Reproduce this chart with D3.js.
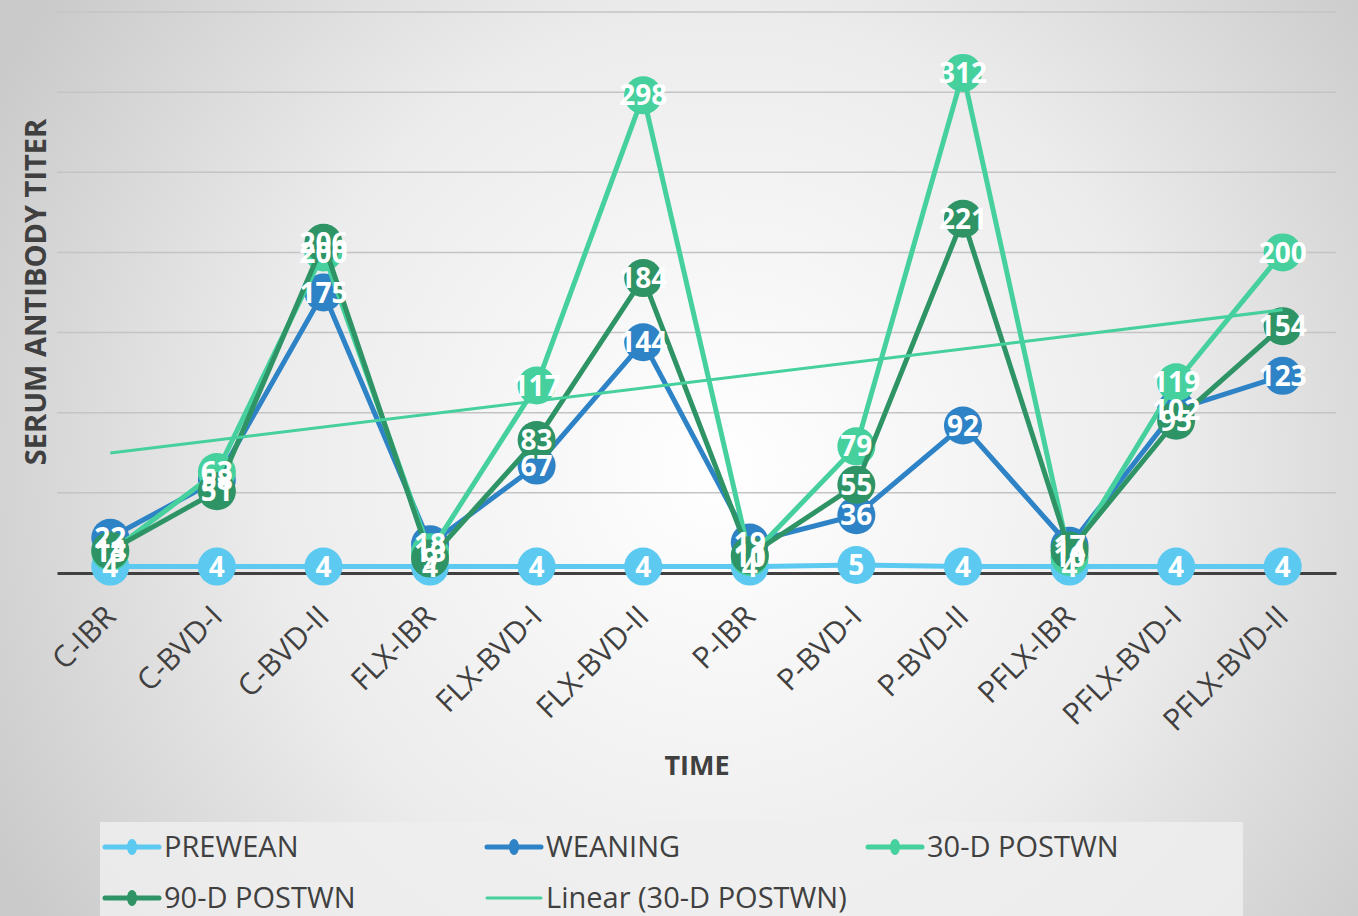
<!DOCTYPE html>
<html lang="en">
  <head>
    <meta charset="utf-8">
    <title>Serum Antibody Titer</title>
    <style>
      body { margin: 0; overflow: hidden; }
      text { font-family: "Open Sans", "DejaVu Sans", sans-serif; }
    </style>
  </head>
  <body>

<script src="https://d3js.org/d3.v7.min.js"></script>

<script>
// categories along the x axis
var categories = ["C-IBR", "C-BVD-I", "C-BVD-II", "FLX-IBR", "FLX-BVD-I", "FLX-BVD-II",
                  "P-IBR", "P-BVD-I", "P-BVD-II", "PFLX-IBR", "PFLX-BVD-I", "PFLX-BVD-II"];

// series values
var prewean  = [4, 4, 4, 4, 4, 4, 4, 5, 4, 4, 4, 4];
var weaning  = [22, 58, 175, 18, 67, 144, 19, 36, 92, 17, 102, 123];
var postwn30 = [13, 63, 200, 13, 117, 298, 10, 79, 312, 10, 119, 200];
var postwn90 = [14, 51, 206, 9, 83, 184, 11, 55, 221, 14, 95, 154];

var yTicks = [0, 50, 100, 150, 200, 250, 300, 350];

var series = [
  {name: "PREWEAN",    values: prewean,  color: "#5bc9f0"},
  {name: "WEANING",    values: weaning,  color: "#2e83c6"},
  {name: "30-D POSTWN", values: postwn30, color: "#45d09e"},
  {name: "90-D POSTWN", values: postwn90, color: "#2e9466"}
];

var W = 1358, H = 916;
var margin = {top: 12, right: 22, bottom: 343, left: 57};

var svg = d3.select("body").append("svg")
  .attr("width", W)
  .attr("height", H);

// soft radial background
var defs = svg.append("defs");
var grad = defs.append("radialGradient")
  .attr("id", "bg")
  .attr("gradientUnits", "userSpaceOnUse")
  .attr("cx", 720).attr("cy", 470).attr("r", 820);
grad.append("stop").attr("offset", "0%").attr("stop-color", "#ffffff");
grad.append("stop").attr("offset", "55%").attr("stop-color", "#ececec");
grad.append("stop").attr("offset", "100%").attr("stop-color", "#cacaca");

svg.append("rect")
  .attr("width", W).attr("height", H)
  .attr("fill", "url(#bg)");

var x = d3.scaleBand()
  .domain(categories)
  .range([margin.left, W - margin.right]);

var y = d3.scaleLinear()
  .domain([0, 350])
  .range([H - margin.bottom, margin.top]);

var cx = (d) => x(d) + x.bandwidth() / 2;

// gridlines
svg.append("g")
  .selectAll("line")
  .data(yTicks.slice(1))
  .enter()
  .append("line")
    .attr("x1", margin.left)
    .attr("x2", W - margin.right)
    .attr("y1", (d) => y(d))
    .attr("y2", (d) => y(d))
    .attr("stroke", "#c4c4c4")
    .attr("stroke-width", 1.5);

// x axis
var xAxis = svg.append("g")
  .attr("transform", "translate(0," + y(0) + ")")
  .call(d3.axisBottom(x).tickSize(0).tickPadding(0));
xAxis.select(".domain")
  .attr("stroke", "#404040")
  .attr("stroke-width", 3);
// labels rotated so they end near the tick
xAxis.selectAll(".tick text")
  .attr("x", 0).attr("y", 0)
  .attr("dy", "0.35em")
  .attr("fill", "#404040")
  .attr("font-size", 30)
  .attr("text-anchor", "end")
  .attr("transform", "translate(0,38) rotate(-45)");

// axis titles
svg.append("text")
  .attr("transform", "translate(46,292) rotate(-90)")
  .attr("text-anchor", "middle")
  .attr("font-size", 29)
  .attr("font-weight", "bold")
  .attr("fill", "#404040")
  .text("SERUM ANTIBODY TITER");

svg.append("text")
  .attr("x", 697)
  .attr("y", 775)
  .attr("text-anchor", "middle")
  .attr("font-size", 27)
  .attr("font-weight", "bold")
  .attr("fill", "#404040")
  .text("TIME");

// linear trend of 30-D POSTWN (least squares over category index)
var idx = d3.range(1, categories.length + 1);
var mx = d3.mean(idx), my = d3.mean(postwn30);
var slope = d3.sum(idx, (k, i) => (k - mx) * (postwn30[i] - my)) /
            d3.sum(idx, (k) => (k - mx) * (k - mx));
var icpt = my - slope * mx;

var line = d3.line()
  .x((d, i) => cx(categories[i]))
  .y((d) => y(d));

// series lines and markers
series.forEach((s) => {
  var g = svg.append("g");
  g.append("path")
    .datum(s.values)
    .attr("d", line)
    .attr("fill", "none")
    .attr("stroke", s.color)
    .attr("stroke-width", 5)
    .attr("stroke-linejoin", "round");
  g.selectAll("circle")
    .data(s.values)
    .enter()
    .append("circle")
      .attr("cx", (d, i) => cx(categories[i]))
      .attr("cy", (d) => y(d))
      .attr("r", 19)
      .attr("fill", s.color);
});

svg.append("line")
  .attr("x1", cx(categories[0]))
  .attr("x2", cx(categories[categories.length - 1]))
  .attr("y1", y(icpt + slope * 1))
  .attr("y2", y(icpt + slope * categories.length))
  .attr("stroke", "#45d09e")
  .attr("stroke-width", 3);

// data labels
series.forEach((s) => {
  svg.append("g")
    .selectAll("text")
    .data(s.values)
    .enter()
    .append("text")
      .attr("x", (d, i) => cx(categories[i]))
      .attr("y", (d) => y(d))
      .attr("dy", "0.36em")
      .attr("text-anchor", "middle")
      .attr("font-size", 28)
      .attr("font-weight", "bold")
      .attr("fill", "#ffffff")
      .text((d) => d);
});

// legend
var legend = svg.append("g");
legend.append("rect")
  .attr("x", 100).attr("y", 822)
  .attr("width", 1143).attr("height", 100)
  .attr("fill", "#efefef")
  .attr("opacity", 0.85);

var legendItems = [
  {name: "PREWEAN", color: "#5bc9f0", marker: true, lx: 105, ly: 847},
  {name: "WEANING", color: "#2e83c6", marker: true, lx: 487, ly: 847},
  {name: "30-D POSTWN", color: "#45d09e", marker: true, lx: 868, ly: 847},
  {name: "90-D POSTWN", color: "#2e9466", marker: true, lx: 105, ly: 898},
  {name: "Linear (30-D POSTWN)", color: "#45d09e", marker: false, lx: 487, ly: 898}
];

var li = legend.selectAll(".item")
  .data(legendItems)
  .enter()
  .append("g")
    .attr("class", "item")
    .attr("transform", (d) => "translate(" + d.lx + "," + d.ly + ")");

li.append("line")
  .attr("x1", 0).attr("x2", 54)
  .attr("stroke", (d) => d.color)
  .attr("stroke-width", (d) => d.marker ? 5 : 3)
  .attr("stroke-linecap", "round");
li.filter((d) => d.marker)
  .append("ellipse")
    .attr("cx", 27).attr("rx", 5).attr("ry", 8)
    .attr("fill", (d) => d.color);
li.append("text")
  .attr("x", 59)
  .attr("dy", "0.36em")
  .attr("font-size", 29)
  .attr("fill", "#404040")
  .text((d) => d.name);
</script>

  </body>
</html>
